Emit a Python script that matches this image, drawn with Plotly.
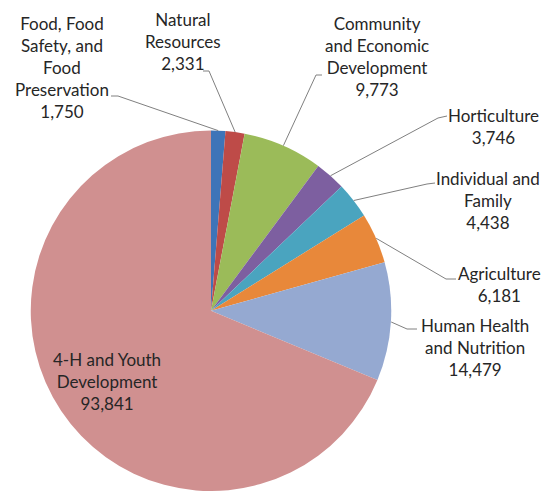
import math
import plotly.graph_objects as go

categories = [
    "Food, Food<br>Safety, and<br>Food<br>Preservation",
    "Natural<br>Resources",
    "Community<br>and Economic<br>Development",
    "Horticulture",
    "Individual and<br>Family",
    "Agriculture",
    "Human Health<br>and Nutrition",
    "4-H and Youth<br>Development",
]
values = [1750, 2331, 9773, 3746, 4438, 6181, 14479, 93841]
colors = ["#3E74B8", "#BE4B48", "#9BBB59", "#7D5FA0", "#4AA4BF", "#E8883A", "#95A9D1", "#D09090"]

W, H = 544, 491
CX, CY, R = 211, 311, 180.5

# label centers (px) and leader line stubs (label end, elbow)
label_pos = [(62, 67), (183, 41), (377, 57), (493, 126), (488, 201), (499, 284), (475, 347), (107, 381)]
stubs = [
    ((111, 96), (118, 96)),
    ((203, 71), (209, 71)),
    ((322, 75), (316, 75)),
    ((447, 116), (438, 118)),
    ((435, 183), (427, 184)),
    ((456, 279), (446, 279)),
    ((417, 329), (407, 329)),
    None,
]

def px(x):
    return x / W

def py(y):
    return 1 - y / H

fig = go.Figure(go.Pie(
    labels=[c.replace("<br>", " ") for c in categories],
    values=values,
    sort=False,
    direction="clockwise",
    rotation=0,
    marker=dict(colors=colors, line=dict(width=0)),
    textinfo="none",
    textposition="none",
    hoverinfo="label+value",
    domain=dict(x=[px(CX - R), px(CX + R)], y=[0, py(CY - R)]),
    showlegend=False,
))

total = sum(values)
cum = 0
shapes = []
annotations = []
for i, (cat, v) in enumerate(zip(categories, values)):
    mid = (cum + v / 2) / total
    cum += v
    ang = 2 * math.pi * mid
    ex = CX + R * math.sin(ang)
    ey = CY - R * math.cos(ang)
    lx, ly = label_pos[i]
    annotations.append(dict(
        x=px(lx), y=py(ly), xref="paper", yref="paper",
        text=f"{cat}<br>{v:,}", showarrow=False,
        xanchor="center", yanchor="middle", align="center",
        font=dict(family="Lato", size=17, color="#262626"),
    ))
    if stubs[i] is not None:
        (sx, sy), (bx, by) = stubs[i]
        shapes.append(dict(
            type="path", xref="paper", yref="paper",
            path=f"M {px(sx)} {py(sy)} L {px(bx)} {py(by)} L {px(ex)} {py(ey)}",
            line=dict(color="#808080", width=1),
        ))

fig.update_layout(
    width=W, height=H,
    margin=dict(l=0, r=0, t=0, b=0),
    paper_bgcolor="white",
    plot_bgcolor="white",
    shapes=shapes,
    annotations=annotations,
)

fig.write_html(
    "out.html",
    config={"displayModeBar": False},
    post_script="document.body.style.margin='0';document.body.style.overflow='hidden';",
)
